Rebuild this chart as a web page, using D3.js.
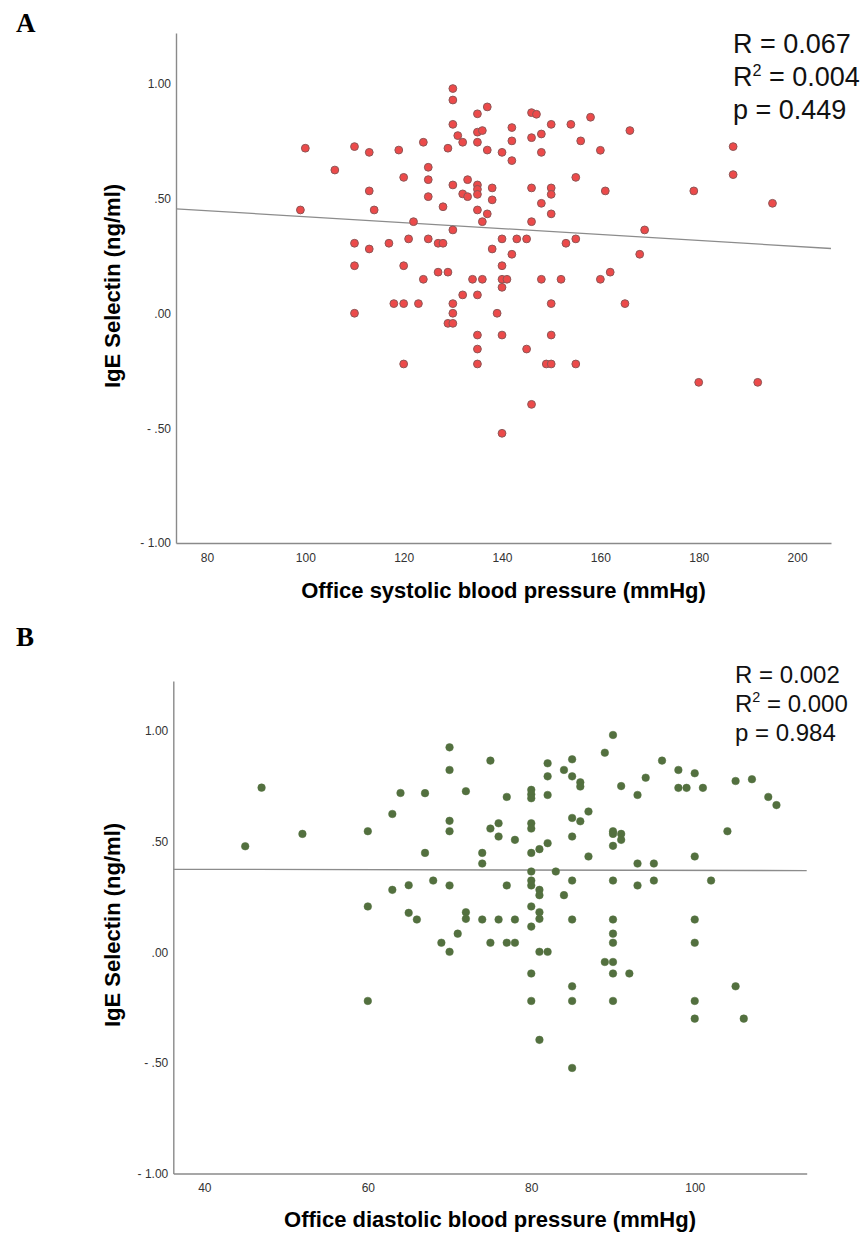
<!DOCTYPE html>
<html>
<head>
<meta charset="utf-8">
<script src="https://cdn.jsdelivr.net/npm/d3@7"></script>
<style>
  html, body { margin: 0; padding: 0; background: #fff; }
  svg { display: block; }
</style>
</head>
<body>
<svg id="chart" width="864" height="1234"></svg>
<script>
// ---------------- DATA ----------------
// Panel A: office systolic BP (mmHg) vs IgE Selectin (ng/ml)
const pointsA = [
  [130,0.98],[130,0.93],[137,0.90],[135,0.87],[146,0.875],[147,0.868],[130,0.824],[150,0.824],
  [154,0.824],[142,0.81],[135,0.79],[136,0.797],[131,0.775],[132,0.746],[135,0.746],[142,0.752],
  [146,0.766],[148,0.782],[156,0.752],[124,0.746],[129,0.72],[137,0.712],[140,0.702],[148,0.702],
  [142,0.666],[100,0.72],[110,0.727],[113,0.702],[119,0.712],[106,0.625],[125,0.637],[120,0.593],
  [125,0.583],[133,0.583],[130,0.56],[135,0.56],[135,0.541],[138,0.547],[146,0.547],[150,0.547],
  [150,0.519],[155,0.593],[113,0.534],[132,0.521],[133,0.509],[135,0.519],[125,0.509],[138,0.495],
  [148,0.48],[128,0.465],[135,0.451],[137,0.434],[150,0.434],[99,0.451],[114,0.451],[122,0.40],
  [136,0.40],[146,0.40],[130,0.364],[110,0.306],[113,0.281],[117,0.306],[121,0.325],[125,0.325],
  [127,0.306],[128,0.306],[140,0.325],[143,0.325],[145,0.325],[138,0.281],[142,0.258],[153,0.306],
  [155,0.325],[110,0.208],[120,0.208],[140,0.208],[127,0.18],[129,0.18],[124,0.149],[134,0.149],
  [136,0.149],[140,0.149],[141,0.149],[148,0.149],[152,0.149],[140,0.114],[132,0.081],[135,0.081],
  [118,0.043],[120,0.043],[123,0.043],[130,0.043],[150,0.043],[110,0.001],[130,0.001],[139,0.001],
  [158,0.855],[166,0.797],[160,0.711],[161,0.534],[187,0.727],[187,0.605],[179,0.534],[195,0.48],
  [169,0.364],[168,0.258],[160,0.149],[162,0.18],[165,0.043],
  [129,-0.043],[130,-0.043],[135,-0.094],[140,-0.094],[135,-0.155],[145,-0.155],[120,-0.22],
  [135,-0.22],[146,-0.396],[140,-0.522],
  [150,-0.094],[149,-0.22],[150,-0.22],[155,-0.22],[180,-0.30],[192,-0.30]
];
// Panel B: office diastolic BP (mmHg) vs IgE Selectin (ng/ml)
const pointsB = [
  [45,0.479],[47,0.744],[52,0.535],[60,0.547],[63,0.625],[64,0.72],[60,0.207],[63,0.282],
  [65,0.303],[65,0.178],[66,0.148],
  [70,0.926],[70,0.824],[75,0.866],[90,0.982],[89,0.902],[82,0.854],[85,0.872],[84,0.824],
  [82,0.795],[85,0.795],[86,0.768],[86,0.749],[96,0.866],[98,0.824],[100,0.809],[94,0.789],
  [91,0.751],[98,0.743],[99,0.743],[101,0.743],[105,0.774],[107,0.782],[109,0.702],[110,0.665],
  [67,0.719],[72,0.728],[77,0.702],[80,0.734],[80,0.714],[80,0.696],[82,0.711],[93,0.711],
  [70,0.594],[70,0.547],[75,0.559],[76,0.583],[76,0.523],[78,0.508],[80,0.583],[80,0.559],
  [85,0.607],[86,0.592],[87,0.636],[85,0.523],[90,0.547],[90,0.535],[91,0.535],[91,0.508],
  [90,0.481],[104,0.547],
  [67,0.449],[74,0.449],[74,0.401],[80,0.449],[81,0.466],[82,0.493],[87,0.433],[93,0.401],
  [95,0.401],[100,0.433],[80,0.365],[83,0.365],
  [68,0.324],[70,0.302],[77,0.302],[80,0.324],[80,0.302],[81,0.282],[81,0.258],[84,0.258],
  [85,0.324],[90,0.324],[93,0.302],[95,0.324],[102,0.324],
  [72,0.181],[72,0.151],[74,0.148],[76,0.148],[78,0.148],[80,0.207],[81,0.181],[81,0.151],
  [80,0.116],[85,0.148],[90,0.148],[100,0.148],
  [71,0.084],[69,0.043],[70,0.002],[75,0.043],[77,0.043],[78,0.043],[81,0.002],[82,0.002],
  [90,0.084],[90,0.043],[100,0.043],
  [60,-0.220],[89,-0.044],[90,-0.044],[80,-0.096],[90,-0.096],[92,-0.096],[85,-0.154],[105,-0.154],
  [80,-0.220],[85,-0.220],[90,-0.220],[100,-0.220],[100,-0.300],[106,-0.300],[81,-0.396],[85,-0.523]
];
// Fitted regression line end points [x, y]
const fitA = [[73.7, 0.456], [206.9, 0.283]];
const fitB = [[36.2, 0.375], [113.7, 0.369]];
// Ticks
const xTicksA = [80, 100, 120, 140, 160, 180, 200];
const xTicksB = [40, 60, 80, 100];
const yTicks = [-1, -0.5, 0, 0.5, 1];
const yTickLabels = ["- 1.00", "- .50", ".00", ".50", "1.00"];
// Statistics
const statsA = ["0.067", "0.004", "0.449"];
const statsB = ["0.002", "0.000", "0.984"];
const titles = ["A", "B"];
const xLabels = ["Office systolic blood pressure (mmHg)", "Office diastolic blood pressure (mmHg)"];
const yLabel = "IgE Selectin (ng/ml)";

// ---------------- LAYOUT ----------------
const panels = [
  {
    title: titles[0], titlePos: [16, 32],
    points: pointsA, fit: fitA, xTicks: xTicksA, stats: statsA, xLabel: xLabels[0],
    xDomain: [73.7, 206.9], xRange: [176, 831],
    yDomain: [-1, 1.222], yRange: [543, 33],
    fill: "#ec4a4a", stroke: "#8e5656", r: 3.9, sw: 1,
    statsPos: [733, 53], statsSize: 27, statsGap: [33, 33],
    xLabelY: 598, yLabelPos: [120, 286]
  },
  {
    title: titles[1], titlePos: [16, 646],
    points: pointsB, fit: fitB, xTicks: xTicksB, stats: statsB, xLabel: xLabels[1],
    xDomain: [36.2, 113.7], xRange: [173.3, 806.7],
    yDomain: [-1, 1.226], yRange: [1173.5, 681],
    fill: "#53703f", stroke: "#53703f", r: 3.8, sw: 0.5,
    statsPos: [735, 683], statsSize: 24, statsGap: [28.5, 29],
    xLabelY: 1227, yLabelPos: [120, 925]
  }
];

const svg = d3.select("#chart");
const font = "'Liberation Sans', Arial, Helvetica, sans-serif";

panels.forEach(p => {
  const x = d3.scaleLinear().domain(p.xDomain).range(p.xRange);
  const y = d3.scaleLinear().domain(p.yDomain).range(p.yRange);
  const g = svg.append("g");

  // panel letter
  svg.append("text")
    .attr("x", p.titlePos[0]).attr("y", p.titlePos[1])
    .attr("font-family", "'Liberation Serif', 'Times New Roman', serif")
    .attr("font-weight", "bold").attr("font-size", 27).attr("fill", "#000")
    .text(p.title);

  // axes
  const xAxis = d3.axisBottom(x).tickValues(p.xTicks).tickSize(0).tickSizeOuter(0)
    .tickPadding(10).tickFormat(d3.format("d"));
  const yAxis = d3.axisLeft(y).tickValues(yTicks).tickSize(0).tickSizeOuter(0)
    .tickPadding(5).tickFormat((d, i) => yTickLabels[i]);

  const gx = g.append("g").attr("transform", `translate(0,${p.yRange[0]})`).call(xAxis);
  const gy = g.append("g").attr("transform", `translate(${p.xRange[0]},0)`).call(yAxis);
  [gx, gy].forEach(a => {
    a.select(".domain").attr("stroke", "#8a8a8a").attr("stroke-width", 1.4);
    a.selectAll("text").attr("font-family", font).attr("font-size", 12).attr("fill", "#333");
  });

  // regression line
  g.append("line")
    .attr("x1", x(p.fit[0][0])).attr("y1", y(p.fit[0][1]))
    .attr("x2", x(p.fit[1][0])).attr("y2", y(p.fit[1][1]))
    .attr("stroke", "#8c8c8c").attr("stroke-width", 1.3);

  // points
  g.append("g").selectAll("circle").data(p.points).join("circle")
    .attr("cx", d => x(d[0])).attr("cy", d => y(d[1])).attr("r", p.r)
    .attr("fill", p.fill).attr("stroke", p.stroke).attr("stroke-width", p.sw);

  // axis titles
  g.append("text")
    .attr("x", (p.xRange[0] + p.xRange[1]) / 2).attr("y", p.xLabelY)
    .attr("text-anchor", "middle").attr("font-family", font)
    .attr("font-weight", "bold").attr("font-size", 22).attr("fill", "#000")
    .text(p.xLabel);
  g.append("text")
    .attr("transform", `translate(${p.yLabelPos[0]},${p.yLabelPos[1]}) rotate(-90)`)
    .attr("text-anchor", "middle").attr("font-family", font)
    .attr("font-weight", "bold").attr("font-size", 22).attr("fill", "#000")
    .text(yLabel);

  // statistics
  const st = g.append("g").attr("font-family", font).attr("font-size", p.statsSize).attr("fill", "#111");
  const [sx, sy] = p.statsPos;
  st.append("text").attr("x", sx).attr("y", sy).text("R = " + p.stats[0]);
  const t2 = st.append("text").attr("x", sx).attr("y", sy + p.statsGap[0]);
  t2.append("tspan").text("R");
  t2.append("tspan").attr("font-size", p.statsSize * 0.6).attr("dy", -p.statsSize * 0.38).text("2");
  t2.append("tspan").attr("dy", p.statsSize * 0.38).text(" = " + p.stats[1]);
  st.append("text").attr("x", sx).attr("y", sy + p.statsGap[0] + p.statsGap[1]).text("p = " + p.stats[2]);
});
</script>
</body>
</html>
